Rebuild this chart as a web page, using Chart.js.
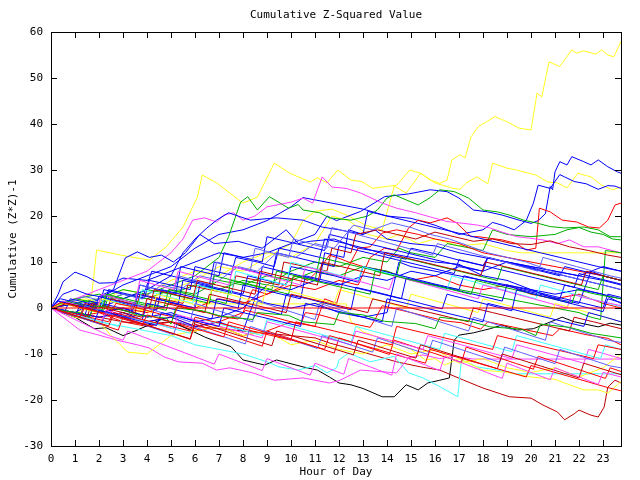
<!DOCTYPE html>
<html><head><meta charset="utf-8">
<script src="https://cdn.jsdelivr.net/npm/chart.js@4/dist/chart.umd.min.js"></script>
<style>html,body{margin:0;padding:0;background:#fff}canvas{display:block}</style>
</head><body>
<canvas id="c" width="640" height="480"></canvas>
<script>
const chartTitle = "Cumulative Z-Squared Value";
const xTitle = "Hour of Day";
const yTitle = "Cumulative (Z*Z)-1";
const hourTicks = [0,1,2,3,4,5,6,7,8,9,10,11,12,13,14,15,16,17,18,19,20,21,22,23];
const valueTicks = [-30,-20,-10,0,10,20,30,40,50,60];

// each series: [hour, cumulative value] pairs
const r0 = [[0,0],[23.75,0]];
const r1 = [[0,0],[1,-1],[2,-2],[3,-1],[4,-3],[5,-2],[6,-4],[7,-3],[8,-1],[8.4,4],[9,3],[10,5],[11,4],[12,6],[12.8,5],[13.3,11],[13.9,13],[14.4,12.5],[14.9,17.4],[15.3,19.1],[15.8,18.5],[16.5,19.6],[16.9,18.5],[17.5,15.5],[17.8,15.5],[18.8,14.8],[19.4,14],[19.8,12.6],[20.2,13],[20.35,21.7],[20.8,20.9],[21.3,19.1],[21.9,18.7],[22.4,17.6],[22.85,17.4],[23.2,19.1],[23.5,22.4],[23.75,22.8]];
const r2 = [[0,0],[1,-2],[2,-1],[3,-3],[4,-4],[5,-3],[6,-5],[7,-4],[8,-6],[9,-5],[10,-3],[11,-4],[11.4,2],[11.9,1],[12.3,8],[12.8,13],[13.3,13.3],[13.8,16.3],[14.4,17],[15.3,16],[16,15],[17,14],[18,12],[19,11],[20,10],[21,9],[22,8],[23,7],[23.75,6]];
const r3 = [[0,0],[1,1],[2,-1],[3,0],[4,-1],[5,1],[6,0],[7,2],[8,1],[9,3],[9.7,5],[10.2,7],[10.7,6],[11.2,8.5],[11.6,11.5],[11.9,11],[12.4,10],[13,9],[14,8],[15,6],[16,7],[17,5],[18,4],[19,5],[20,3],[21,2],[22,3],[23,1],[23.75,0]];
const rr1 = [[0,0],[0.8,-1],[1.6,-2],[2.4,-3],[2.6,-1],[3.4,-2],[4.2,-3],[5,-4],[5.8,-5],[6,-2],[6.8,-3],[7.6,-4],[8.4,-5],[9.2,-6],[10,-7],[10.2,-3],[11,-4],[11.8,-5],[12.6,-6],[13.4,-7],[14.2,-8],[14.4,-4],[15.2,-5],[16,-6],[16.8,-7],[17.6,-8],[18.4,-9],[18.6,-6],[19.4,-7],[20.2,-8],[21,-9],[21.8,-10],[22.6,-11],[22.8,-8],[23.75,-9]];
const rr2 = [[0,0],[0.4,1.2],[1,0.4],[1.9,-0.8],[2.5,-1.2],[2.7,1],[3.5,0.2],[4.6,-1.4],[5.1,-1.9],[5.3,0.5],[6.5,-1],[7,-1.8],[7.8,-2.4],[8.1,-0.5],[9.3,-2],[10.4,-3.6],[10.6,-1],[11.2,-1.5],[12.4,-3.2],[13.3,-4.2],[13.5,-2.5],[13.8,0.5],[15,-1],[16.4,-2.8],[17.1,-3.2],[17.9,-4.6],[18.2,-3],[19.3,-4.2],[20.9,-6],[21.2,-4.5],[22.3,-5.8],[23.2,-6.6],[23.75,-8]];
const rr3 = [[0,0],[0.7,-1.2],[1.4,-2.4],[2.1,-3.6],[2.8,-4.8],[3,-2],[3.7,-3.2],[4.4,-4.4],[5.1,-5.6],[5.8,-6.8],[6,-3.5],[6.7,-4.7],[7.4,-5.9],[8.1,-7.1],[8.8,-8.3],[9,-5],[9.7,-6.2],[10.4,-7.4],[11.1,-8.6],[11.8,-9.8],[12,-6.5],[12.7,-7.7],[13.4,-8.9],[14.1,-10.1],[14.3,-7],[15,-8.2],[15.7,-9.4],[16.4,-10.6],[17.1,-11.8],[17.3,-8.5],[18,-9.7],[18.7,-10.9],[19.4,-12.1],[20.1,-13.3],[20.3,-10.5],[21,-11.7],[21.7,-12.9],[22.4,-14.1],[23.1,-15.3],[23.3,-13],[23.75,-13.8]];
const rr4 = [[0,0],[0.6,-1],[1.2,-2],[1.4,0],[2.2,-1.2],[3,-2.4],[3.8,-3.6],[4,-1.5],[4.8,-2.7],[5.6,-3.9],[6.4,-5.1],[7.2,-6.3],[7.4,-3],[8.2,-4.2],[9,-5.4],[9.8,-6.6],[10.6,-7.8],[11.4,-9],[11.6,-6],[12.4,-7.2],[13.2,-8.4],[14,-9.6],[14.8,-10.8],[15.6,-12],[15.8,-9],[16.6,-10.2],[17.4,-11.4],[18.2,-12.6],[19,-13.8],[19.8,-15],[20,-12.5],[20.8,-13.7],[21.6,-14.9],[22.4,-16.1],[23.2,-17.3],[23.75,-18]];
const dr1 = [[0,0],[1,-1],[2,-2],[3,-3],[4,-3.5],[5,-3],[6,-4],[7,-4.5],[8,-5],[9,-5.5],[10,-6],[11,-6.5],[11.6,-7.6],[13,-9.6],[14.4,-11.7],[15.4,-12.8],[16.2,-13.5],[17.2,-15.7],[18,-17.4],[19.1,-19.3],[20,-19.6],[20.5,-21.1],[21.1,-22.6],[21.4,-24.3],[21.8,-23],[22,-22.2],[22.5,-23.3],[22.8,-23.7],[23.05,-21.5],[23.2,-17.2],[23.5,-15.7],[23.75,-16.3]];
const dd1 = [[0,0],[0.6,-1],[1.2,-2],[1.4,1],[2.2,0],[3,-1],[3.8,-2],[4,2],[4.8,1],[5.6,0],[6.4,-1],[6.6,3],[7.4,2],[8.2,1],[9,0],[9.8,-1],[10,3],[10.8,2],[11.6,1],[12.4,0],[13.2,-1],[13.4,2],[14.2,1],[15,0],[15.8,-1],[16.6,-2],[17.4,-3],[17.6,0],[18.4,-1],[19.2,-2],[20,-3],[20.8,-4],[21.6,-5],[21.8,-2],[22.6,-3],[23.75,-4.5]];
const dd2 = [[0,0],[0.8,-1.3],[1.6,-2.6],[2.4,-3.9],[2.6,-1.5],[3.4,-2.8],[4.2,-4.1],[5,-5.4],[5.8,-6.7],[6,-3],[6.8,-4.3],[7.6,-5.6],[8.4,-6.9],[9.2,-8.2],[9.4,-5],[10.2,-6.3],[11,-7.6],[11.8,-8.9],[12.6,-10.2],[12.8,-7],[13.6,-8.3],[14.4,-9.6],[15.2,-10.9],[15.4,-8],[16.2,-9.3],[17,-10.6],[17.8,-11.9],[18.6,-13.2],[18.8,-10],[19.6,-11.3],[20.4,-12.6],[21.2,-13.9],[22,-15.2],[22.2,-12],[23,-13.3],[23.75,-14.5]];
const dd3 = [[0,0],[0.7,1],[1.5,0],[2.3,-1],[2.5,2],[3.3,1],[4.1,0],[4.3,4],[5.1,3],[5.9,2],[6.1,6],[6.9,5],[7.7,4],[8.5,3],[8.7,8],[9.5,7],[10.3,6],[11.1,5],[11.3,10],[12.1,9],[12.9,8],[13.7,7],[13.9,12],[14.7,11],[15.5,10],[16.3,9],[17.1,8],[17.9,7],[18.1,10],[18.9,9],[19.7,8],[20.5,7],[21.3,6],[22.1,5],[22.3,8],[23,7],[23.75,6]];
const dd4 = [[0,0],[0.7,-1],[1.5,-2],[1.7,1],[2.6,0],[3.5,-1],[3.7,3],[4.6,2],[5.5,1],[5.7,5],[6.6,4],[7.5,3],[7.7,7],[8.6,6],[9.5,5],[9.7,10],[10.6,9],[11.5,8],[11.7,13],[12.5,12],[12.7,16],[13.6,17],[14.4,16],[15.2,15],[16,16.5],[16.8,15.5],[17.6,14.5],[18.4,15],[19.2,14],[20,13.8],[20.8,14.6],[21.6,13.3],[22.4,12.5],[23.2,11.5],[23.75,11]];
const g1 = [[0,0],[1,1],[2,2],[3,4],[4,3],[5,5],[6,7],[7,11],[7.4,15.5],[7.9,23],[8.2,24.2],[8.6,21.3],[9.1,24.2],[9.9,21.7],[10.3,22.5],[10.5,21.3],[11.2,20.7],[11.6,19.6],[12.5,19.1],[13.2,20],[13.6,21.3],[14,23.9],[14.3,24.6],[14.8,23.5],[15.3,22.4],[15.8,24],[16.2,25.7],[16.8,25.3],[17.4,23.9],[18,21.3],[18.6,20.9],[19.1,20.2],[19.7,19.1],[20.3,18.4],[20.8,17.7],[21.4,17.4],[22.2,17.6],[22.8,17],[23.3,15.5],[23.75,15.5]];
const g2 = [[0,0],[1,2],[2,3],[3,2],[4,4],[5,3],[6,5],[7,4],[8,6],[9,5],[10,8],[11,10],[12,9],[13,11],[14,10],[14.5,13],[15,12],[16,11],[16.5,14],[17,13.5],[18,12.5],[18.4,17],[19,16],[20,15.5],[21,16],[21.5,17],[22,17.5],[22.5,16.5],[23,16],[23.4,15],[23.75,14.8]];
const g3 = [[0,0],[1,2],[2,1],[3,3],[4,2],[5,4],[6,3],[7,6],[8,5],[9,7],[10,6],[11,8],[12,7],[13,9],[14,8],[15,6],[16,5],[17,4],[18,3],[19,2],[20,1],[21,0],[22,-1],[22.5,-2],[22.9,-2.5],[23.1,12.5],[23.75,12]];
const gg1 = [[0,0],[0.5,1],[1.3,0],[2.1,-1],[2.3,3],[3.1,2],[3.9,1],[4.7,0],[4.9,4],[5.7,3],[6.5,2],[7.3,1],[7.5,6],[8.3,5],[9.1,4],[9.9,3],[10.1,7],[10.9,6],[11.7,5],[12.5,4],[13.3,3],[13.5,8],[14.3,7],[15.1,6],[15.9,5],[16.7,4],[17.5,3],[17.7,6],[18.5,5],[19.3,4],[20.1,3],[20.9,2],[21.7,1],[21.9,4],[22.7,3],[23.75,2]];
const gg2 = [[0,0],[0.5,-0.6],[1.3,-1.1],[1.6,-2],[1.8,0.5],[2.9,-0.3],[3.6,-1.5],[4.8,-2.2],[5,-3.5],[5.2,0],[6.3,-0.6],[7.1,-1.8],[8.4,-2.5],[8.6,-1],[9.9,-1.6],[10.5,-3],[11.8,-3.6],[12,-1],[13,-1.5],[13.9,-2.9],[15.2,-3.4],[16,-4.5],[16.2,-2],[17.4,-2.8],[18.3,-4.1],[19.6,-4.6],[20.2,-6],[20.4,-3.5],[21.6,-4.2],[22.5,-5.5],[23.75,-6.5]];
const gg3 = [[0,0],[0.6,1.5],[1.4,0.5],[2.2,-0.5],[2.4,2.5],[3.2,1.5],[4,0.5],[4.8,-0.5],[5,3],[5.8,2],[6.6,1],[6.8,7],[7.6,6],[8.4,5],[9.2,4],[9.4,8],[10.2,7],[11,6],[11.2,11],[12,10],[12.8,9],[13.6,8],[14.4,7],[14.6,11],[15.4,10],[16.2,9],[17,8],[17.8,7],[18.6,6],[18.8,9],[19.6,8],[20.4,7],[21.2,6],[22,5],[22.8,4],[23,7],[23.75,6]];
const b1 = [[0,0],[0.3,3],[0.5,5.7],[1,7.8],[1.5,6.8],[2,5.4],[2.6,5.5],[3,6.5],[4,6],[5,8],[6,10],[7,12],[8,11],[9,12],[10,14],[11,16],[11.5,20],[11.9,19],[12.9,21],[13.9,24.2],[14.9,24.8],[15.8,25.7],[16.5,25.3],[17,23.9],[17.6,21.3],[18.2,20.9],[18.8,20.2],[19.5,19.1],[20,18.4],[20.3,19],[20.6,20.5],[20.8,26.4],[20.9,25.7],[21,29.6],[21.2,31.8],[21.5,31.1],[21.7,32.9],[22.2,31.8],[22.5,31.1],[22.8,32.2],[23.2,30.7],[23.6,29.6],[23.75,29.3]];
const b2 = [[0,0],[1,-1],[2,2],[3,5],[4,7],[5,9],[6,13],[7,16],[8,17],[9,19],[10,22],[10.5,24],[11,23.5],[12,22.5],[13,21.5],[14,20],[15,19.5],[16,18],[17,16],[18,17],[18.4,18.6],[18.8,18],[19.3,17],[19.8,19],[20.1,22.8],[20.3,26.7],[20.8,26],[21.2,29],[21.4,28.5],[21.8,27.5],[22.3,27],[22.8,25.8],[23.2,26.6],[23.5,26.5],[23.75,26]];
const b3 = [[0,0],[1,1],[2,0],[3,2],[4,4],[5,7],[5.5,12],[6,15],[6.5,17.4],[6.9,19.1],[7.4,20.7],[8.3,19.1],[9.4,19.6],[10.5,19.1],[11.3,17.6],[12,17],[13,16],[13.5,17],[14,15],[15,14],[16,13.5],[17,12],[18,11],[19,10],[20,9],[21,8],[22,7],[23,6],[23.75,5]];
const b4 = [[0,0],[0.5,3],[1,4],[1.5,3],[2,2.5],[2.6,4],[3.1,10.9],[3.6,12.2],[4.1,11],[4.6,11.5],[5.1,10],[5.6,12],[6.2,16],[6.8,14],[7.8,14.5],[8.8,13],[9.3,15],[9.8,17],[10.3,14],[10.8,14.5],[11.8,15],[12.8,13],[14,12],[15,11],[16,10],[17,9.5],[18,7],[19,6],[20,4],[21,3],[22,4],[23,3],[23.75,1]];
const b5 = [[0,0],[1,-1],[2,-2],[3,-1],[4,-3],[5,-2],[6,-4],[7,-3],[8,-5],[8.5,2],[9,1],[10,0],[11,1],[12,-1],[13,-2],[14,-1],[14.5,10],[15,9],[16,8],[17,7],[18,6],[19,5],[20,4],[21,2],[22,1],[22.5,8],[23,7],[23.75,6]];
const b9 = [[0,0],[1,1],[2,-1],[3,0],[4,-2],[5,-1],[6,-3],[7,-2],[8,0],[9,5],[10,4],[11,6],[12,5],[13,7],[14,6],[15,8],[16,7],[17,9],[18,8],[19,10],[20,9],[21,8],[22,7],[23,9],[23.75,8]];
const bb1 = [[0,0],[0.6,-0.5],[0.8,2],[1.6,1],[2.2,0.3],[2.4,4],[3.2,3],[3.9,2.2],[4.1,6],[5,5],[5.8,4],[6,9],[6.8,8],[7.5,7.2],[7.7,11],[8.6,10],[9.3,9],[9.5,13],[10.4,12],[11.2,11],[11.4,15],[12.3,14],[13.2,12.8],[14,11.5],[14.8,10.6],[15,13],[16,11.8],[17,10.4],[18,9.2],[18.2,11],[19.2,9.6],[20.2,8.3],[21.2,7],[21.4,9],[22.5,7.6],[23.75,6]];
const bb2 = [[0,0],[0.7,-1],[1.4,-1.8],[1.6,1.5],[2.5,0.5],[3.4,-0.6],[3.6,3],[4.4,2],[5.3,0.8],[5.5,6],[6.4,5],[7.2,4],[8,3],[8.2,7],[9,6],[9.8,5],[10,9],[10.9,8],[11.8,7],[12.8,5.6],[13,9],[14,7.8],[15,6.5],[16,5.2],[17,4],[17.2,7],[18.2,5.7],[19.2,4.5],[20.2,3.2],[21.2,2],[21.4,5],[22.5,3.6],[23.75,2]];
const bb3 = [[0,0],[0.5,-1],[1,-1.8],[1.2,0.5],[2,-0.5],[3,-1.7],[3.8,-2.6],[4,1],[4.9,0],[5.8,-1.2],[6.7,-2.4],[6.9,2],[7.8,1],[8.7,-0.2],[9.6,-1.4],[9.8,3],[10.7,2],[11.6,0.8],[12.5,-0.4],[12.7,4.5],[13.6,3.4],[14.5,2.2],[15.4,1],[16.3,-0.2],[16.5,3],[17.4,1.8],[18.3,0.6],[19.2,-0.6],[19.4,4],[20.3,2.8],[21.2,1.6],[22.1,0.4],[23,-0.8],[23.2,2],[23.75,1.2]];
const bb4 = [[0,0],[0.4,2],[1.2,1],[2,0],[2.2,4],[3,3],[3.8,2],[4,5],[4.2,8],[5,7],[5.8,6],[6.6,5],[6.8,10],[7.6,9],[8.4,8],[9.2,7],[9.4,12],[10.2,11],[11,10],[11.8,9],[12,13.5],[12.8,12.5],[13.6,11.5],[14.4,10.5],[15.2,9.5],[16,8.5],[16.8,7.5],[17,10.5],[17.8,9.5],[18.6,8.5],[19.4,7.5],[20.2,6.5],[21,5.5],[21.8,4.5],[22,7.5],[22.9,6.3],[23.75,5.2]];
const bb5 = [[0,0],[0.6,-1],[1.2,-2],[1.8,-3],[2,-0.5],[2.8,-1.6],[3.6,-2.7],[4.4,-3.8],[4.6,-1],[5.4,-2],[6.2,-3],[7,-4],[7.2,0],[8,-1],[8.8,-2],[9.6,-3],[10.4,-4],[10.6,1],[11.4,0],[12.2,-1],[13,-2],[13.8,-3],[14,2],[14.8,1],[15.6,0],[16.4,-1],[17.2,-2],[18,-3],[18.2,1],[19,0],[19.8,-1],[20.6,-2],[21.4,-3],[22.2,-4],[22.4,-1],[23.1,-2],[23.75,-3]];
const bb6 = [[0,0],[0.3,1.5],[1,0.6],[1.8,-0.4],[2,2.5],[2.8,1.5],[3.6,0.5],[4.4,-0.5],[4.6,4],[5.4,3],[6.2,2],[7,1],[7.8,0],[8,5],[8.8,4],[9.6,3],[10.4,2],[10.6,7],[11.4,6],[12.2,5],[13,4],[13.8,3],[14.6,2],[14.8,6.5],[15.6,5.5],[16.4,4.5],[17.2,3.5],[18,2.5],[18.8,1.5],[19,5],[19.8,4],[20.6,3],[21.4,2],[22.2,1],[23,0],[23.2,3],[23.75,2.3]];
const bb7 = [[0,0],[0.5,1],[1.3,0],[2,-1],[2.2,2],[3,1],[3.5,0.3],[3.7,5],[4.5,4],[5.2,3],[5.4,9],[6.2,8],[7,7],[7.2,12],[8,11],[8.8,10],[9,15.5],[9.8,14.5],[10.6,13.5],[11.4,12.5],[11.6,16],[12.4,15],[13.2,14],[14,13],[14.8,12],[15.6,11],[16.4,10],[17.2,9],[18,8],[18.2,11],[19,10],[19.8,9],[20.6,8],[21.4,7],[22.2,6],[23,5],[23.75,4]];
const bb8 = [[0,0],[0.8,-1],[1.6,-2],[1.8,1],[2.6,0],[3.4,-1],[4.2,-2],[4.4,2],[5.2,1],[6,0],[6.2,5],[7,4],[7.8,3],[8.6,2],[8.8,9],[9.6,8],[10.4,7],[11.2,6],[11.4,12],[12.2,11],[12.4,17],[13,16],[13.2,21],[14,20],[14.8,19],[15.6,18],[16.4,17],[17.2,16],[18,15],[18.8,14],[19.6,13],[20.4,12],[21.2,11],[22,10],[22.8,9],[23.75,8]];
const ll1 = [[0,0],[0.6,-1],[1.2,-2],[1.4,0.5],[2,-0.5],[2.6,-1.5],[3.2,-2.5],[3.4,1],[4,0],[4.6,-1],[5.2,-2],[5.8,-3],[6,1],[6.6,0],[7.2,-1],[7.8,-2],[8.4,-3],[8.6,1.5],[9.2,0.5],[9.8,-0.5],[10.4,-1.5],[11,-2.5],[11.2,1],[11.8,0],[12.4,-1],[13,-2],[13.6,-3],[14.2,-4],[14.4,0],[15,-1],[15.6,-2],[16.2,-3],[16.8,-4],[17.4,-5],[17.6,-2],[18.2,-3],[18.8,-4],[19.4,-5],[20,-6],[20.6,-7],[20.8,-3],[21.4,-4],[22,-5],[22.6,-6],[23.2,-7],[23.75,-7.5]];
const ll2 = [[0,0],[0.5,1.5],[1.2,0.5],[1.9,-0.5],[2.1,3],[2.8,2],[3.5,1],[3.7,5],[4.4,4],[5.1,3],[5.3,7],[6,6],[6.7,5],[6.9,10],[7.6,9],[8.3,8],[8.5,13],[9.2,12],[9.9,11],[10.1,15],[10.8,14],[11.5,13],[11.7,17.5],[12.4,16.5],[13.1,15.5],[13.8,14.5],[14.5,13.5],[15.2,12.5],[15.9,11.5],[16.1,14],[16.8,13],[17.5,12],[18.2,11],[18.9,10],[19.6,9],[20.3,8],[20.5,11],[21.2,10],[21.9,9],[22.6,8],[23.3,7],[23.75,6.5]];
const ll3 = [[0,0],[0.7,-1.2],[1.4,-2.4],[2.1,-3.6],[2.3,-1],[3,-2.2],[3.7,-3.4],[4.4,-4.6],[5.1,-5.8],[5.3,-3],[6,-4.2],[6.7,-5.4],[7.4,-6.6],[8.1,-7.8],[8.3,-4],[9,-5.2],[9.7,-6.4],[10.4,-7.6],[11.1,-8.8],[11.3,-6],[12,-7.2],[12.7,-8.4],[13.4,-9.6],[13.6,-6.5],[14.3,-7.7],[15,-8.9],[15.7,-10.1],[15.9,-7],[16.6,-8.2],[17.3,-9.4],[18,-10.6],[18.7,-11.8],[18.9,-8.5],[19.6,-9.7],[20.3,-10.9],[21,-12.1],[21.2,-9],[21.9,-10.2],[22.6,-11.4],[23.3,-12.6],[23.75,-13]];
const ll4 = [[0,0],[0.6,1],[1.4,2.5],[2.2,1.5],[3,3],[3.8,2],[4.6,5],[5.4,4],[6.2,7],[7,6],[7.8,9],[8.6,8],[9.4,12],[10.2,11],[11,14],[11.8,13],[12.6,18],[13.4,17],[14.2,18.5],[15,17.5],[15.8,16],[16.6,15],[17.4,13.5],[18.2,12],[19,11],[19.8,10],[20.6,8.5],[21.4,7],[22.2,6],[23,5],[23.75,4]];
const m1 = [[0,0],[1,2],[2,4],[3,6],[4,8],[5,12],[5.5,15],[5.9,19.1],[6.4,19.6],[6.9,18.7],[7.2,20.2],[7.6,20.7],[8,19.1],[8.5,20],[9,22],[10,23],[10.5,23.9],[10.9,22.8],[11.3,28.5],[11.7,26.3],[12.3,26],[12.9,25],[13.8,22.8],[14.4,21.7],[15.2,20.7],[15.8,19.8],[16.5,18.8],[17.2,18.4],[17.8,18],[18.3,17.4],[18.8,16.5],[19.4,15.5],[19.9,15.2],[20.5,14.8],[21.1,14],[21.6,14.8],[22.2,13.3],[22.8,13.3],[23.3,12.6],[23.75,12]];
const mf = [[0,0],[0.5,-2],[1.2,-4.8],[2,-5.9],[2.75,-7],[3.6,-8],[4.1,-8.7],[4.7,-10.6],[5.3,-11.7],[6.3,-12],[6.9,-13.5],[7.45,-13],[8.4,-14.1],[9.3,-15.7],[10.5,-15.2],[11.6,-16.3],[12,-15.8],[12.9,-13.5],[14.4,-14.1],[14.9,-10.8],[15.5,-10.2],[16.2,-11],[16.8,-10.5],[17.6,-11.1],[23.75,-11.1]];
const mm1 = [[0,0],[0.7,-1],[1.4,-2],[2.1,-3],[2.3,-0.5],[3,-1.5],[3.7,-2.5],[4.4,-3.5],[5.1,-4.5],[5.3,-1.5],[6,-2.5],[6.7,-3.5],[7.4,-4.5],[8.1,-5.5],[8.8,-6.5],[9,-3],[9.7,-4],[10.4,-5],[11.1,-6],[11.8,-7],[12.5,-8],[12.7,-5],[13.4,-6],[14.1,-7],[14.8,-8],[15.5,-9],[15.7,-6],[16.4,-7],[17.1,-8],[17.8,-9],[18.5,-10],[19.2,-11],[19.4,-8],[20.1,-9],[20.8,-10],[21.5,-11],[22.2,-12],[22.4,-9],[23.1,-10],[23.75,-11]];
const mm2 = [[0,0],[0.5,1.5],[1.2,0.5],[1.9,-0.5],[2.1,3],[2.8,2],[3.5,1],[3.7,6],[4.4,5],[5.1,4],[5.3,8],[6,7],[6.7,6],[7.4,5],[7.6,9],[8.3,8],[9,7],[9.7,6],[10.4,5],[10.6,9],[11.3,8],[12,7],[12.7,6],[13.4,5],[14.1,4],[14.3,7],[15,6],[15.7,5],[16.4,4],[17.1,3],[17.8,2],[18,5],[18.7,4],[19.4,3],[20.1,2],[20.8,1],[21.5,0],[21.7,3],[22.4,2],[23.75,0.5]];
const mm3 = [[0,0],[0.6,-1.5],[1.2,-3],[1.8,-4.5],[2.4,-6],[3,-7],[3.2,-5],[3.8,-6.2],[4.4,-7.4],[5,-8.6],[5.6,-9.8],[6.2,-11],[6.8,-12.2],[7,-10],[7.6,-11.2],[8.2,-12.4],[8.8,-13.6],[9,-11],[9.6,-12.2],[10.2,-13.4],[10.8,-14.6],[11,-12],[11.6,-13.2],[12.2,-14.4],[12.4,-11],[13,-12.2],[13.6,-13.4],[14.2,-14.6],[14.4,-10],[15,-11.2],[15.6,-12.4],[16.2,-13.6],[16.4,-10.5],[17,-11.7],[17.6,-12.9],[18.2,-14.1],[18.8,-15.3],[19,-12],[19.6,-13.2],[20.2,-14.4],[20.8,-15.6],[21,-13],[21.6,-14.2],[22.2,-15.4],[22.8,-16.6],[23,-14],[23.75,-15]];
const cf = [[0,0],[1,-1],[2,-3],[3,-4],[4,-5],[5,-6],[6,-8],[7,-9],[8,-10],[9,-11.7],[9.5,-12.8],[10.3,-13.5],[11,-12.5],[11.5,-14.1],[11.9,-13],[12,-11.3],[12.4,-9.8],[13.3,-11.7],[14.3,-10.5],[14.9,-14.1],[15.5,-15.2],[16.2,-17.1],[16.95,-19.3],[17.1,-11.3],[17.75,-12.8],[18.6,-13.5],[19.4,-14.3],[23.75,-14.3]];
const cc1 = [[0,0],[0.7,-1],[1.4,-2],[2.1,-3],[2.8,-4],[3,-1.5],[3.7,-2.5],[4.4,-3.5],[5.1,-4.5],[5.8,-5.5],[6,-2],[6.7,-3],[7.4,-4],[8.1,-5],[8.8,-6],[9,-2.5],[9.7,-3.5],[10.4,-4.5],[11.1,-5.5],[11.8,-6.5],[12.5,-7.5],[12.7,-4],[13.4,-5],[14.1,-6],[14.8,-7],[15.5,-8],[16.2,-9],[16.4,-5.5],[17.1,-6.5],[17.8,-7.5],[18.5,-8.5],[19.2,-9.5],[19.4,-6],[20.1,-7],[20.8,-8],[21.5,-9],[22.2,-10],[22.9,-11],[23.1,-8],[23.75,-9]];
const cc2 = [[0,0],[0.6,1],[1.3,0],[2,-1],[2.2,2],[2.9,1],[3.6,0],[3.8,4],[4.5,3],[5.2,2],[5.9,1],[6.1,5],[6.8,4],[7.5,3],[7.7,8],[8.4,7],[9.1,6],[9.8,5],[10,10],[10.7,9],[11.4,8],[12.1,7],[12.8,6],[13,9],[13.7,8],[14.4,7],[15.1,6],[15.8,5],[16.5,4],[16.7,7],[17.4,6],[18.1,5],[18.8,4],[19.5,3],[20.2,2],[20.4,5],[21.1,4],[21.8,3],[22.5,2],[23.2,1],[23.75,0.3]];
const k1 = [[0,0],[1,-2],[1.8,-4.5],[2.3,-4.3],[3,-6],[3.5,-5],[4.6,-2.5],[5,-3],[5.8,-4.8],[6.4,-6.3],[6.9,-7.3],[7.5,-8.4],[8,-11.3],[8.9,-12.4],[9.4,-11.3],[10.5,-12.8],[11.1,-13.5],[11.6,-15],[12,-16.3],[12.5,-16.7],[13,-17.5],[13.8,-19.3],[14.3,-19.3],[14.8,-16.7],[15.3,-17.8],[15.7,-16.3],[16.2,-15.7],[16.6,-15.2],[16.8,-7],[17,-5.9],[17.6,-5.4],[18.3,-4.5],[18.8,-3.7],[19.4,-4.8],[20.1,-4.5],[21.3,-2],[21.8,-3],[22.8,-4.1],[23.3,-3.3],[23.75,-3.7]];
const y1 = [[0,0],[0.8,1.5],[1.7,3],[1.9,12.6],[2.9,11.5],[4.1,10.4],[4.8,13.3],[5.5,17.6],[6.1,24.1],[6.3,28.9],[6.9,27.2],[8,22.8],[8.6,24.1],[9.3,31.5],[9.95,29.3],[10.8,27.4],[11.1,28.3],[11.5,27.2],[11.95,30],[12.5,27.8],[12.95,27.5],[13.4,26],[13.95,26.4],[14.4,26.7],[14.95,30],[15.4,29.3],[15.8,27.8],[16.2,27.1],[16.5,27.8],[16.7,32.2],[17.05,33.3],[17.25,32.6],[17.5,37.2],[17.8,39.4],[18.5,41.6],[19,40.5],[19.5,39.1],[20,38.7],[20.25,46.7],[20.45,45.9],[20.75,53.5],[21.2,52.5],[21.7,56.1],[21.9,55.4],[22.2,55.9],[22.7,55.2],[22.95,56.1],[23.2,55],[23.45,54.6],[23.75,57.9]];
const y2 = [[0,0],[1,-1],[2,1],[3,3],[4,2],[5,4],[6,6],[7,9],[8,8],[9,11],[10,14],[10.5,19],[11,21],[11.7,21.5],[12.4,20],[13.1,18],[13.8,17],[14.3,26.5],[14.8,25],[15.4,29.3],[16,27.2],[16.75,26],[17.05,25.8],[17.3,27.2],[17.75,28.5],[18.2,27],[18.4,31.5],[19,30.4],[19.4,30],[20.2,28.9],[20.7,27.4],[21.1,27.2],[21.5,26.1],[21.95,29.3],[22.5,28.5],[22.95,26.7],[23.4,25.7],[23.75,26.3]];
const y3 = [[0,0],[1,2],[2,1],[3,4],[4,3],[5,6],[6,8],[7,7],[8,10],[9,12],[10,11],[11,14],[11.7,20],[12.4,19],[13.2,16],[14,15],[14.5,16],[15.3,14],[16,15],[17,13.5],[18,14],[19,12.5],[19.6,12],[23.75,12]];
const y4 = [[0,0],[0.5,1],[1.5,2],[2.5,0],[3.5,-1],[4.5,1],[5.5,2],[6.5,0.9],[12.3,0.9],[12.5,-3],[13,-5.2],[14,-7],[15,-9],[15.6,-11.3],[16,-11],[16.4,-12.4],[17,-11],[18,-13.5],[19,-14],[20,-15],[21,-15.5],[21.4,-16.3],[22.2,-17.8],[22.8,-17.8],[23.2,-18.5],[23.6,-16.7],[23.75,-16]];
const y5 = [[0,0],[1,-2],[2,-3],[2.5,-6],[3.2,-9.6],[4,-10],[4.5,-8],[5,-6],[6,-5],[7,-4],[8,-6],[9,-5],[10,-8],[11,-7],[12,-9],[13,-10],[14,-8],[15,-10],[16,-9],[17,-12],[18,-11],[19,-13],[20,-14],[21,-13],[22,-15],[23,-13],[23.75,-10]];
const y6 = [[0,0],[0.5,1],[1.2,0],[1.9,-1],[2.1,2],[2.8,1],[3.5,0],[4.2,-1],[4.4,3],[5.1,2],[5.8,1],[6.5,0],[6.7,4],[7.4,3],[8.1,2],[8.8,1],[9,5],[9.7,4],[10.4,3],[11.1,2],[11.8,1],[12,4],[12.7,3],[13.4,2],[14.1,1],[14.8,0],[15,3],[15.7,2],[16.4,1],[17.1,0],[17.8,-1],[18,2],[18.7,1],[19.4,0],[20.1,-1],[20.8,-2],[21,1],[21.7,0],[22.4,-1],[23.1,-2],[23.75,-3]];

const RED='#ff0000', GREEN='#00b000', BLUE='#0000ff', MAG='#ff40ff', CYAN='#40ffff', DRED='#c00000', YEL='#ffff20', BLK='#000000', LBLUE='#6060ff';
const seriesList = [
  [r0,RED],[mm3,MAG],[rr4,RED],[dd2,DRED],[ll3,LBLUE],[gg2,GREEN],[bb5,BLUE],[rr1,RED],[cc1,CYAN],[mm1,MAG],
  [rr3,RED],[ll1,LBLUE],[dd1,DRED],[rr2,RED],[bb3,BLUE],[y6,YEL],[gg1,GREEN],[dd3,DRED],[bb6,BLUE],[mm2,MAG],
  [cc2,CYAN],[bb2,BLUE],[gg3,GREEN],[ll2,LBLUE],[ll4,LBLUE],[dd4,DRED],[bb1,BLUE],[bb4,BLUE],[bb7,BLUE],[bb8,BLUE],[b5,BLUE],[b9,BLUE],
  [g3,GREEN],[r3,RED],[y5,YEL],[y4,YEL],[mf,MAG],[cf,CYAN],[k1,BLK],[dr1,DRED],[r2,RED],[b4,BLUE],[b3,BLUE],[m1,MAG],
  [g2,GREEN],[g1,GREEN],[y3,YEL],[r1,RED],[b2,BLUE],[b1,BLUE],[y2,YEL],[y1,YEL]
];

const FONT = "'DejaVu Sans Mono', monospace";
const datasets = seriesList.map(([pts,col]) => ({
  data: pts.map(p => ({x:p[0], y:p[1]})),
  borderColor: col, borderWidth: 1, pointRadius: 0, tension: 0, fill: false
}));

const framePlugin = {
  id: 'frame',
  beforeDraw(chart){ const c=chart.ctx; c.save(); c.fillStyle='#fff'; c.fillRect(0,0,chart.width,chart.height); c.restore(); },
  afterDraw(chart){
    const c = chart.ctx, a = chart.chartArea, xs = chart.scales.x, ys = chart.scales.y;
    c.save();
    c.strokeStyle = '#000'; c.lineWidth = 1;
    c.strokeRect(Math.round(a.left)+0.5, Math.round(a.top)+0.5, Math.round(a.right-a.left), Math.round(a.bottom-a.top));
    c.beginPath();
    hourTicks.forEach(h => { const x = Math.round(xs.getPixelForValue(h))+0.5;
      c.moveTo(x, a.bottom); c.lineTo(x, a.bottom-6); c.moveTo(x, a.top); c.lineTo(x, a.top+6); });
    valueTicks.forEach(v => { const y = Math.round(ys.getPixelForValue(v))+0.5;
      c.moveTo(a.left, y); c.lineTo(a.left+6, y); c.moveTo(a.right, y); c.lineTo(a.right-6, y); });
    c.stroke();
    c.fillStyle = '#000'; c.font = '11px ' + FONT; c.textAlign = 'center'; c.textBaseline = 'middle';
    c.fillText(chartTitle, 336, 15);
    c.fillText(xTitle, 336, 472);
    c.translate(13, 239); c.rotate(-Math.PI/2); c.fillText(yTitle, 0, 0);
    c.restore();
  }
};

new Chart(document.getElementById('c'), {
  type: 'line',
  data: { datasets },
  options: {
    responsive: false, animation: false, events: [],
    layout: { padding: { left: 0, top: 32, right: 19, bottom: 0 } },
    plugins: { legend: { display: false }, title: { display: false }, tooltip: { enabled: false } },
    scales: {
      x: { type: 'linear', min: 0, max: 23.75,
        grid: { display: false, drawTicks: false }, border: { display: false },
        ticks: { stepSize: 1, includeBounds: false, autoSkip: false, maxRotation: 0, padding: 7, color: '#000',
          font: { family: FONT, size: 11 }, callback: v => hourTicks.includes(v) ? String(v) : '' },
        afterFit: s => { s.height = 34; } },
      y: { type: 'linear', min: -30, max: 60,
        grid: { display: false, drawTicks: false }, border: { display: false },
        ticks: { stepSize: 10, padding: 8, color: '#000', font: { family: FONT, size: 11 } },
        afterFit: s => { s.width = 51; } }
    }
  },
  plugins: [framePlugin]
});
</script>
</body></html>
